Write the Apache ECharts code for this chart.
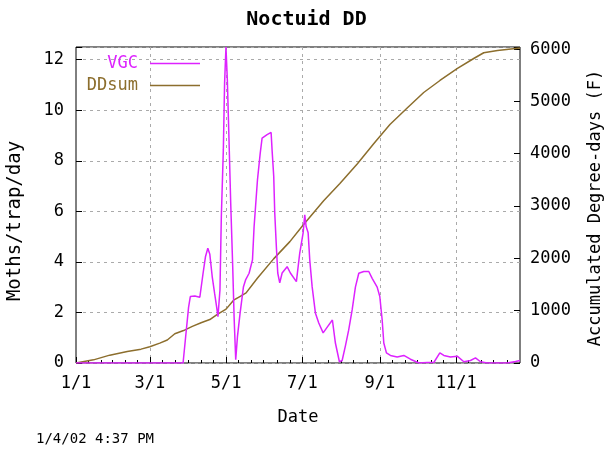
<!DOCTYPE html>
<html>
<head>
<meta charset="utf-8">
<script src="https://cdn.jsdelivr.net/npm/echarts@6/dist/echarts.min.js"></script>
<style>
  html, body { margin: 0; padding: 0; background: #fff; }
  #chart { width: 613px; height: 450px; }
</style>
</head>
<body>
<div id="chart"></div>
<script>
// day of year (0 = Jan 1) for the x axis
const lastDay = 355;
const majorDays = [0, 59, 120, 181, 243, 304];
const majorLabels = ['1/1', '3/1', '5/1', '7/1', '9/1', '11/1'];
const minorDays = [10, 20, 29, 39, 49, 69, 79, 90, 100, 110, 130, 140, 150, 161, 171,
                   191, 202, 212, 222, 233, 253, 263, 273, 284, 294, 314, 324, 334, 345];

// VGC trap catch, [day, moths/trap/day]
const vgc = [
  [0, 0], [85.6, 0], [87.4, 0.9], [90, 2.2], [91.4, 2.63], [95, 2.65], [99, 2.6],
  [101.6, 3.55], [103.5, 4.2], [105.4, 4.54], [107, 4.3], [108.9, 3.42], [110.8, 2.76],
  [112.4, 2.23], [113.5, 1.83], [115.1, 2.89], [116.2, 5.79], [117.8, 8.43], [118.8, 11.07],
  [119.9, 12.5], [121, 11.2], [122.4, 8.7], [123.7, 6.32], [125.3, 3.81], [126.4, 1.83],
  [127.7, 0.13], [129.1, 1.05], [131.2, 1.97], [133.9, 3.02], [135.7, 3.3], [138.4, 3.55],
  [141.1, 4.08], [142.4, 5.4], [145.1, 7.25], [147.3, 8.3], [148.8, 8.9], [152.8, 9.03],
  [156, 9.12], [156.8, 8.4], [158.1, 7.38], [158.9, 5.94], [160.2, 4.6], [161.3, 3.56],
  [162.9, 3.17], [164.8, 3.56], [168.8, 3.81], [171.4, 3.56], [176.2, 3.22], [178.9, 4.35],
  [181.6, 5.15], [182.9, 5.86], [184, 5.4], [185.6, 5.15], [186.9, 4.08], [188.8, 3.02],
  [191.4, 1.98], [194.1, 1.58], [197.6, 1.19], [201.3, 1.45], [205, 1.7], [207.4, 0.79],
  [210.6, 0.05], [212.8, 0.1], [215.5, 0.7], [218, 1.3], [220.8, 2.1], [223.4, 3.0],
  [226.1, 3.55], [230.1, 3.62], [234.1, 3.62], [236.8, 3.35], [240.8, 3.0], [242.9, 2.63],
  [244.8, 1.7], [246.1, 0.79], [248.2, 0.4], [251.4, 0.3], [256.8, 0.24], [262.1, 0.3],
  [267.4, 0.15], [274.1, 0], [280.8, 0.02], [286.1, 0.02], [290.9, 0.4], [294.1, 0.3],
  [299.4, 0.24], [304.8, 0.27], [310.1, 0.05], [315.4, 0.1], [319.4, 0.2], [323.4, 0.05],
  [328.8, 0], [344.8, 0], [351.4, 0.06], [355, 0.1]
];

// accumulated degree-days, [day, DD (F)]
const ddsum = [
  [0, 0], [14, 60], [27, 150], [41, 220], [52, 265], [59, 310], [67, 380], [73, 440],
  [79, 560], [86, 620], [93, 700], [100, 770], [107, 830], [113, 930], [120, 1030],
  [126, 1200], [131, 1270], [136, 1340], [145, 1620], [158, 1990], [171, 2320],
  [181, 2620], [198, 3100], [211, 3430], [225, 3810], [238, 4190], [251, 4560],
  [265, 4880], [278, 5170], [291, 5400], [305, 5630], [318, 5820], [326, 5930],
  [337, 5975], [355, 6020]
];

const leftMax = 12.5;
const rightMax = 6040;

const font = 'DejaVu Sans Mono';
const vgcColor = '#dd22ff';
const ddColor = '#8c6e2d';

const dayCats = [];
for (let d = 0; d <= lastDay; d++) dayCats.push(String(d));

const chart = echarts.init(document.getElementById('chart'));

function legendFor(name, top, color) {
  return {
    data: [name], right: 413, top: top, padding: 0, align: 'right',
    icon: 'rect', itemWidth: 50, itemHeight: 1.5,
    textStyle: { fontFamily: font, fontSize: 17, color: color, padding: [0, 7, 0, 0] }
  };
}

chart.setOption({
  animation: false,
  title: [
    {
      text: 'Noctuid DD', left: 'center', top: 5,
      textStyle: { fontFamily: font, fontWeight: 'bold', fontSize: 20, color: '#000' }
    },
    {
      text: '1/4/02 4:37 PM', left: 31, top: 427,
      textStyle: { fontFamily: font, fontWeight: 'normal', fontSize: 14, color: '#000' }
    }
  ],
  legend: [legendFor('VGC', 55, vgcColor), legendFor('DDsum', 77, ddColor)],
  grid: {
    left: 76, right: 93, top: 47, bottom: 87, outerBoundsMode: 'none',
    show: true, borderColor: '#000', borderWidth: 1, backgroundColor: 'transparent'
  },
  xAxis: [
    { type: 'value', min: 0, max: lastDay, show: false },
    {
      type: 'category', data: dayCats, boundaryGap: false, position: 'bottom',
      name: 'Date', nameLocation: 'middle', nameGap: 46,
      nameTextStyle: { fontFamily: font, fontSize: 17, color: '#000' },
      axisLine: { show: false },
      axisTick: {
        inside: true, length: 6, lineStyle: { color: '#000' },
        interval: (i) => majorDays.includes(i)
      },
      axisLabel: {
        fontFamily: font, fontSize: 17, color: '#000', margin: 12,
        interval: (i) => majorDays.includes(i),
        formatter: (v, i) => majorLabels[majorDays.indexOf(Number(v))] || ''
      },
      splitLine: {
        show: true,
        interval: (i) => majorDays.includes(i) && i > 0,
        lineStyle: { color: '#aaaaaa', type: [3, 4], width: 1 }
      }
    },
    {
      type: 'category', data: dayCats, boundaryGap: false, position: 'bottom',
      axisLine: { show: false },
      axisLabel: { show: false },
      axisTick: {
        inside: true, length: 3, lineStyle: { color: '#000' },
        interval: (i) => minorDays.includes(i)
      },
      splitLine: { show: false }
    }
  ],
  yAxis: [
    {
      type: 'value', min: 0, max: leftMax, interval: 2, position: 'left',
      name: 'Moths/trap/day', nameLocation: 'middle', nameGap: 51, nameRotate: 90,
      nameTextStyle: { fontFamily: font, fontSize: 19, color: '#000', padding: [0, 32, 0, 0] },
      axisLine: { show: false },
      axisTick: { inside: true, length: 6, lineStyle: { color: '#000' } },
      axisLabel: {
        fontFamily: font, fontSize: 17, color: '#000', margin: 12,
        formatter: (v) => (v % 2 === 0 ? String(v) : '')
      },
      splitLine: { show: true, lineStyle: { color: '#aaaaaa', type: [3, 4], width: 1 } }
    },
    {
      type: 'value', min: 0, max: rightMax, interval: 1000, position: 'right',
      name: 'Accumulated Degree-days (F)', nameLocation: 'middle', nameGap: 67, nameRotate: 90,
      nameTextStyle: { fontFamily: font, fontSize: 17, color: '#000', padding: [0, 6, 0, 0] },
      axisLine: { show: false },
      axisTick: { inside: true, length: 6, lineStyle: { color: '#000' } },
      axisLabel: {
        fontFamily: font, fontSize: 17, color: '#000', margin: 10,
        formatter: (v) => (v % 1000 === 0 ? String(v) : '')
      },
      splitLine: { show: false }
    }
  ],
  series: [
    {
      name: 'VGC', type: 'line', xAxisIndex: 0, yAxisIndex: 0,
      data: vgc, symbol: 'none', z: 3,
      lineStyle: { color: vgcColor, width: 1.5 }, itemStyle: { color: vgcColor }
    },
    {
      name: 'DDsum', type: 'line', xAxisIndex: 0, yAxisIndex: 1,
      data: ddsum, symbol: 'none', z: 2,
      lineStyle: { color: ddColor, width: 1.5 }, itemStyle: { color: ddColor }
    }
  ]
});
</script>
</body>
</html>
